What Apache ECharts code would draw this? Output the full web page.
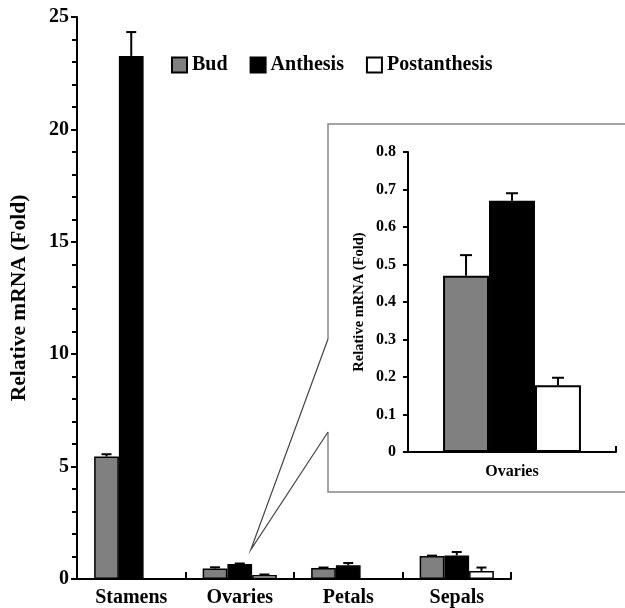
<!DOCTYPE html>
<html>
<head>
<meta charset="utf-8">
<script src="https://cdn.jsdelivr.net/npm/echarts@6/dist/echarts.min.js"></script>
<style>html,body{margin:0;padding:0;background:#fff;}#c{width:625px;height:608px;}</style>
</head>
<body>
<div id="c"></div>
<script>
const categories = ['Stamens', 'Ovaries', 'Petals', 'Sepals'];
const seriesNames = ['Bud', 'Anthesis', 'Postanthesis'];
const budValues = [5.45, 0.47, 0.49, 1.02];
const budErrors = [0.10, 0.05, 0.02, 0.02];
const anthesisValues = [23.27, 0.67, 0.61, 1.05];
const anthesisErrors = [1.06, 0.02, 0.10, 0.15];
const postValues = [0, 0.18, 0, 0.36];
const postErrors = [0, 0.02, 0, 0.15];
const insetCategories = ['Ovaries'];
const insetBud = [0.47], insetBudErr = [0.055];
const insetAnthesis = [0.67], insetAnthesisErr = [0.02];
const insetPost = [0.178], insetPostErr = [0.02];
const mainTicks = [0, 5, 10, 15, 20, 25];
const insetTicks = [0, 0.1, 0.2, 0.3, 0.4, 0.5, 0.6, 0.7, 0.8];

const FONT = 'Liberation Serif';
const colors = ['#808080', '#000000', '#ffffff'];

const chart = echarts.init(document.getElementById('c'), null, {renderer: 'canvas'});

function errRender(pos, pct, capHalf) {
  return function (params, api) {
    const cat = api.value(0), v = api.value(1), e = api.value(2);
    if (!(e > 0)) return null;
    const band = api.size([1, 0])[0];
    const bw = band * pct;
    const c = api.coord([cat, v]);
    const t = api.coord([cat, v + e]);
    const x = c[0] + (pos - 1) * bw;
    const st = {stroke: '#000', lineWidth: 2};
    return {type: 'group', children: [
      {type: 'line', shape: {x1: x, y1: c[1], x2: x, y2: t[1]}, style: st},
      {type: 'line', shape: {x1: x - capHalf, y1: t[1], x2: x + capHalf, y2: t[1]}, style: st}
    ]};
  };
}

const mainBarPct = 0.228, insetBarPct = 0.221;
const mainVals = [budValues, anthesisValues, postValues];
const mainErrs = [budErrors, anthesisErrors, postErrors];
const insVals = [insetBud, insetAnthesis, insetPost];
const insErrs = [insetBudErr, insetAnthesisErr, insetPostErr];

const series = [];
for (let i = 0; i < 3; i++) {
  series.push({
    name: seriesNames[i], type: 'bar', xAxisIndex: 0, yAxisIndex: 0,
    data: mainVals[i], barWidth: (mainBarPct * 100) + '%', barGap: '0%',
    itemStyle: {color: colors[i], borderColor: '#000', borderWidth: 1.5},
    animation: false
  });
}
for (let i = 0; i < 3; i++) {
  series.push({
    name: seriesNames[i], type: 'bar', xAxisIndex: 1, yAxisIndex: 1,
    data: insVals[i], barWidth: (insetBarPct * 100) + '%', barGap: '0%',
    itemStyle: {color: colors[i], borderColor: '#000', borderWidth: 2},
    animation: false
  });
}
for (let i = 0; i < 3; i++) {
  series.push({
    type: 'custom', xAxisIndex: 0, yAxisIndex: 0, z: 5,
    renderItem: errRender(i, mainBarPct, 5),
    data: categories.map((c, k) => [k, mainVals[i][k], mainErrs[i][k]]),
    animation: false, silent: true
  });
  series.push({
    type: 'custom', xAxisIndex: 1, yAxisIndex: 1, z: 5,
    renderItem: errRender(i, insetBarPct, 6),
    data: insetCategories.map((c, k) => [k, insVals[i][k], insErrs[i][k]]),
    animation: false, silent: true
  });
}

const axisLine = {show: true, lineStyle: {color: '#000', width: 2}};

chart.setOption({
  backgroundColor: '#fff',
  animation: false,
  legend: {
    data: seriesNames.map(n => ({name: n, icon: 'rect'})),
    left: 166, top: 50, itemWidth: 15, itemHeight: 15, itemGap: 22,
    selectedMode: false,
    textStyle: {fontFamily: FONT, fontWeight: 'bold', fontSize: 20, color: '#000'}
  },
  grid: [
    {left: 73, top: 17, width: 438, height: 564},
    {left: 408, top: 152, width: 208, height: 300}
  ],
  xAxis: [
    {type: 'category', gridIndex: 0, data: categories,
      axisLine: axisLine,
      axisTick: {show: true, inside: true, length: 7, lineStyle: {color: '#000', width: 2}},
      axisLabel: {fontFamily: FONT, fontWeight: 'bold', fontSize: 20, color: '#000', margin: 9}},
    {type: 'category', gridIndex: 1, data: insetCategories,
      axisLine: axisLine,
      axisTick: {show: true, inside: true, length: 6, lineStyle: {color: '#000', width: 2}},
      axisLabel: {fontFamily: FONT, fontWeight: 'bold', fontSize: 16, color: '#000', margin: 12}}
  ],
  yAxis: [
    {type: 'value', gridIndex: 0, min: mainTicks[0], max: mainTicks[mainTicks.length - 1], interval: 5,
      name: 'Relative mRNA (Fold)', nameLocation: 'middle', nameGap: 47, nameRotate: 90,
      nameTextStyle: {fontFamily: FONT, fontWeight: 'bold', fontSize: 21.5, color: '#000'},
      axisLine: axisLine,
      axisTick: {show: true, length: 6, lineStyle: {color: '#000', width: 2}},
      minorTick: {show: true, splitNumber: 5, length: 5, lineStyle: {color: '#000', width: 2}},
      splitLine: {show: false},
      axisLabel: {fontFamily: FONT, fontWeight: 'bold', fontSize: 20, color: '#000', margin: 8}},
    {type: 'value', gridIndex: 1, min: insetTicks[0], max: insetTicks[insetTicks.length - 1], interval: 0.1,
      name: 'Relative mRNA (Fold)', nameLocation: 'middle', nameGap: 41, nameRotate: 90,
      nameTextStyle: {fontFamily: FONT, fontWeight: 'bold', fontSize: 14.5, color: '#000'},
      axisLine: axisLine,
      axisTick: {show: true, length: 5, lineStyle: {color: '#000', width: 2}},
      splitLine: {show: false},
      axisLabel: {fontFamily: FONT, fontWeight: 'bold', fontSize: 16, color: '#000', margin: 12,
        formatter: v => (v === 0 ? '0' : v.toFixed(1))}}
  ],
  series: series
});

// inset frame and callout lines (decoration)
const apex = chart.convertToPixel({xAxisIndex: 0, yAxisIndex: 0}, ['Ovaries', 1.3]);
const ax = apex[0] + 11, ay = apex[1];
const boxL = 328, boxT = 124, boxB = 492, c1 = 339, c2 = 432;
const gs = {stroke: '#888', lineWidth: 1.5, fill: null};
chart.setOption({
  graphic: [
    {type: 'polyline', shape: {points: [[boxL, c1], [boxL, boxT], [640, boxT]]}, style: gs, z: 2, silent: true},
    {type: 'polyline', shape: {points: [[boxL, c2], [boxL, boxB], [640, boxB]]}, style: gs, z: 2, silent: true},
    {type: 'polyline', shape: {points: [[boxL, c1], [ax, ay], [boxL, c2]]}, style: {stroke: '#444', lineWidth: 1.2, fill: null}, z: 2, silent: true}
  ]
});
</script>
</body>
</html>
